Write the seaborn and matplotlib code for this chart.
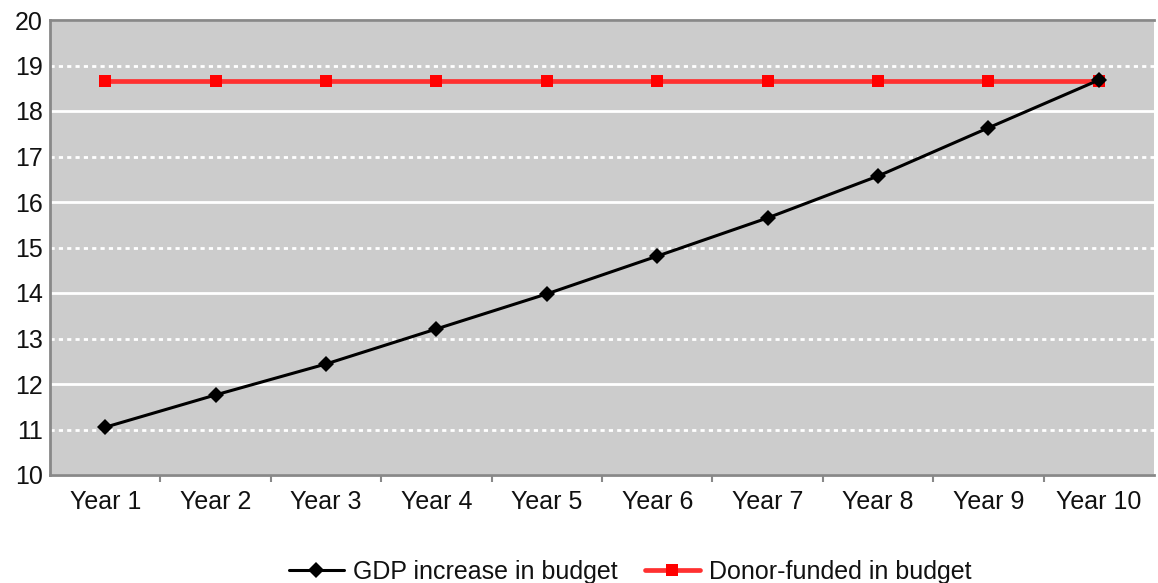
import matplotlib
matplotlib.use("Agg")
import matplotlib.pyplot as plt
import seaborn as sns
import pandas as pd
import numpy as np
from matplotlib.ticker import FixedLocator, FormatStrFormatter, NullFormatter
from matplotlib.lines import Line2D

years = ["Year 1", "Year 2", "Year 3", "Year 4", "Year 5",
         "Year 6", "Year 7", "Year 8", "Year 9", "Year 10"]
gdp_increase = [11.05, 11.76, 12.44, 13.21, 13.98, 14.81, 15.65, 16.57, 17.63, 18.68]
donor_funded = [18.65] * 10
series_names = ["GDP increase in budget", "Donor-funded in budget"]

df = pd.DataFrame({
    "year": years * 2,
    "value": gdp_increase + donor_funded,
    "series": [series_names[0]] * len(years) + [series_names[1]] * len(years),
})
df["x"] = df["year"].map({y: i for i, y in enumerate(years)})

sns.set_style("white", {"axes.facecolor": "#cccccc"})
plt.rcParams["font.family"] = ["Liberation Sans", "DejaVu Sans"]

TXT = "#111111"
fig = plt.figure(figsize=(11.58, 5.83), dpi=100)
ax = fig.add_axes([50 / 1158, 1 - 475 / 583, 1104 / 1158, 455 / 583])

red = df[df["series"] == series_names[1]]
blk = df[df["series"] == series_names[0]]
sns.lineplot(data=red, x="x", y="value", ax=ax, color="#ff3030", lw=3.4,
             marker="s", markersize=9, markeredgewidth=0, markerfacecolor="#ff0000",
             legend=False)
sns.lineplot(data=blk, x="x", y="value", ax=ax, color="black", lw=2.2,
             marker="D", markersize=8, markeredgewidth=0, legend=False)

ax.set_xlim(-0.5, len(years) - 0.5)
ax.set_ylim(10, 20)
ax.set_xticks(range(len(years)))
ax.set_xticklabels(years)
ax.xaxis.set_minor_locator(FixedLocator(np.arange(0.5, len(years) - 1, 1.0)))
ax.xaxis.set_minor_formatter(NullFormatter())
ax.yaxis.set_major_locator(FixedLocator([10, 12, 14, 16, 18, 20]))
ax.yaxis.set_minor_locator(FixedLocator([11, 13, 15, 17, 19]))
ax.yaxis.set_major_formatter(FormatStrFormatter("%d"))
ax.yaxis.set_minor_formatter(FormatStrFormatter("%d"))
ax.grid(True, which="major", axis="y", color="white", lw=2, ls="-")
ax.grid(True, which="minor", axis="y", color="white", lw=2, ls=(0, (1.5, 1.5)))
ax.set_axisbelow(True)
ax.tick_params(axis="y", which="both", labelsize=18, length=0, pad=5,
               labelcolor=TXT)
ax.tick_params(axis="x", which="major", labelsize=18, length=0, pad=11,
               labelcolor=TXT)
ax.tick_params(axis="x", which="minor", length=5, width=1.5, color="#888888",
               direction="out", bottom=True)
ax.set_xlabel("")
ax.set_ylabel("")
for s in ax.spines.values():
    s.set_color("#888888")
    s.set_linewidth(2)
    s.set_linestyle((0, (2, 1)))
ax.spines["right"].set_visible(False)

handles = [
    Line2D([], [], color="black", lw=2.2, marker="D", markersize=8, markeredgewidth=0),
    Line2D([], [], color="#ff3030", lw=3.4, marker="s", markersize=9, markeredgewidth=0,
           markerfacecolor="#ff0000"),
]
fig.legend(handles, series_names, loc="center", bbox_to_anchor=(630 / 1158, 1 - 572 / 583),
           ncol=2, frameon=False, fontsize=18, labelcolor=TXT, handlelength=2.2,
           columnspacing=1.1, handletextpad=0.35, borderpad=0.2)

fig.savefig("out.png", dpi=100)
